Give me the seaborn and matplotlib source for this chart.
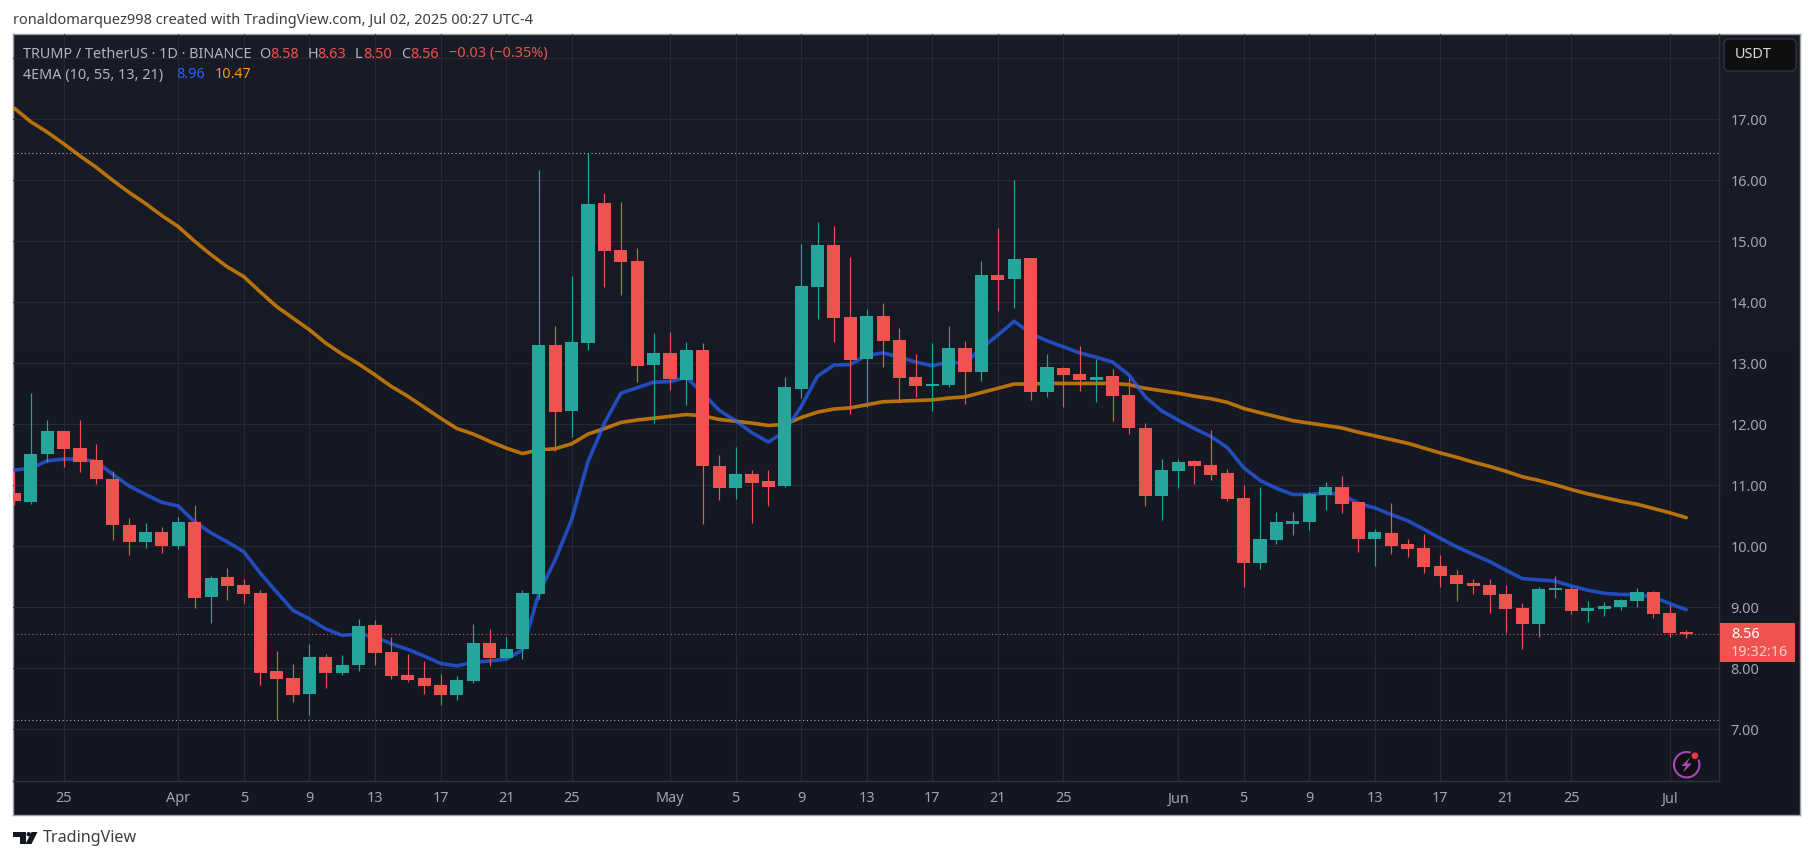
import numpy as np
import pandas as pd
import seaborn as sns
import matplotlib
matplotlib.use("Agg")
import matplotlib.pyplot as plt
import matplotlib.dates as mdates
from matplotlib.patches import Rectangle, FancyBboxPatch, Circle, Polygon

opens = [10.87,10.73,11.51,11.89,11.61,11.41,11.10,10.35,10.07,10.24,
 10.01,10.40,9.17,9.50,9.37,9.24,7.96,7.84,7.58,8.19,7.92,8.06,8.71,8.27,7.89,7.84,7.73,7.56,7.79,8.42,8.17,8.32,9.22,13.30,12.22,13.33,15.63,14.86,14.68,12.97,
 13.17,12.73,13.22,11.32,10.96,11.19,11.07,10.99,12.58,14.25,14.94,13.76,13.07,13.78,13.38,12.77,12.63,12.645,13.25,12.86,14.45,14.38,14.73,12.53,12.925,12.825,12.725,12.79,12.48,11.94,10.82,
 11.235,11.40,11.33,11.20,10.79,9.73,10.10,10.37,10.40,10.84,10.97,10.73,10.12,10.22,10.04,9.97,9.68,9.53,9.40,9.365,9.22,8.99,8.73,9.285,9.30,8.94,8.97,9.005,9.10,9.25,
 8.905,8.58]
closes = [10.74,11.51,11.89,11.595,11.38,11.10,10.35,10.07,10.24,10.01,
 10.40,9.15,9.48,9.35,9.22,7.92,7.825,7.56,8.185,7.92,8.055,8.69,8.25,7.875,7.81,7.71,7.56,7.81,8.415,8.17,8.315,9.235,13.30,12.20,13.35,15.61,14.84,14.66,12.96,13.17,
 12.74,13.22,11.32,10.96,11.19,11.04,10.97,12.61,14.27,14.94,13.74,13.05,13.78,13.37,12.76,12.63,12.66,13.25,12.86,14.45,14.365,14.71,12.53,12.94,12.81,12.725,12.775,12.46,11.94,10.82,11.25,
 11.38,11.32,11.17,10.775,9.73,10.12,10.40,10.415,10.86,10.97,10.69,10.12,10.235,10.005,9.96,9.66,9.51,9.38,9.35,9.20,8.97,8.73,9.30,9.30,8.94,8.99,9.02,9.12,9.25,8.89,
 8.58,8.56]
highs = [11.24,12.52,12.07,11.89,12.07,11.68,11.24,10.47,10.38,10.32,
 10.48,10.68,9.51,9.645,9.465,9.28,8.28,8.07,8.40,8.235,8.22,8.81,8.79,8.515,8.235,8.12,7.905,7.87,8.73,8.645,8.515,9.285,16.17,13.61,14.43,16.44,15.79,15.645,14.89,13.50,
 13.51,13.35,13.33,11.50,11.63,11.25,11.25,12.78,14.96,15.32,15.25,14.74,13.89,13.99,13.58,13.15,13.33,13.61,13.37,14.68,15.22,16.0,14.73,13.15,12.94,13.28,13.07,12.91,12.76,12.02,11.43,
 11.43,11.415,11.91,11.27,11.0,10.97,10.56,10.56,10.89,11.05,11.15,10.74,10.28,10.71,10.12,10.2,9.86,9.61,9.46,9.46,9.37,9.07,9.33,9.51,9.33,9.10,9.09,9.14,9.32,9.27,
 9.04,8.63]
lows = [10.68,10.69,11.38,11.30,11.22,11.02,10.10,9.86,9.97,9.89,
 9.96,8.99,8.74,9.12,9.07,7.73,7.15,7.45,7.23,7.68,7.89,7.96,8.055,7.825,7.775,7.58,7.40,7.48,7.76,8.04,8.17,8.15,9.14,11.56,11.79,13.22,14.25,14.12,12.69,12.02,
 12.56,12.32,10.37,10.76,10.78,10.38,10.66,10.97,12.43,13.73,13.35,12.17,12.28,12.94,12.35,12.45,12.22,12.61,12.33,12.71,13.86,13.91,12.40,12.45,12.28,12.545,12.37,12.05,11.84,10.66,10.43,
 10.96,11.02,11.09,10.74,9.33,9.63,10.04,10.19,10.27,10.595,10.55,9.91,9.68,9.87,9.82,9.56,9.33,9.10,9.22,8.91,8.58,8.32,8.51,9.15,8.89,8.76,8.86,8.96,9.0,8.82,
 8.51,8.50]
ema_blue = [11.25,11.28,11.40,11.43,11.43,11.39,11.18,10.99,10.85,10.72,
 10.66,10.40,10.22,10.07,9.91,9.56,9.25,8.95,8.81,8.645,8.54,8.56,8.52,8.40,8.31,8.20,8.08,8.04,8.10,8.12,8.15,8.30,9.23,9.78,10.44,
 11.39,12.02,12.51,12.60,12.69,12.70,12.77,12.51,12.23,12.06,11.86,11.71,11.88,12.29,12.79,12.97,12.98,13.13,13.17,13.10,13.02,12.96,13.02,13.0,13.25,13.46,13.69,13.49,13.37,13.27,13.17,13.10,
 13.02,12.81,12.45,12.22,12.07,11.93,11.80,11.62,11.29,11.08,10.95,10.85,10.85,10.87,10.85,10.70,10.63,10.52,10.42,10.28,10.13,9.99,9.87,9.75,9.61,9.47,9.45,9.43,9.35,9.28,9.23,9.21,9.21,9.17,9.06,8.96]
ema_orange = [17.18,16.96,16.79,16.60,16.40,16.21,16.0,15.80,15.62,15.42,
 15.24,15.0,14.78,14.58,14.42,14.17,13.93,13.74,13.55,13.33,13.15,12.99,12.81,12.62,12.46,12.28,12.10,11.93,11.84,11.72,11.61,
 11.52,11.58,11.60,11.68,11.84,11.93,12.03,12.07,12.10,12.13,12.16,12.14,12.08,12.05,12.02,11.98,12.0,12.11,12.2,12.25,12.27,12.32,12.37,12.38,12.39,12.40,12.43,12.45,12.52,12.59,12.66,12.66,12.67,12.67,12.67,12.67,
 12.67,12.65,12.59,12.55,12.51,12.46,12.42,12.36,12.26,12.19,12.125,12.06,12.02,11.98,11.94,11.87,11.81,11.75,11.69,11.61,11.53,11.46,11.38,11.31,11.23,11.14,11.08,11.01,10.93,10.86,10.80,10.74,10.69,10.62,10.55,10.47]

tick_dates = ["2025-03-25","2025-04-01","2025-04-05","2025-04-09","2025-04-13","2025-04-17","2025-04-21","2025-04-25",
              "2025-05-01","2025-05-05","2025-05-09","2025-05-13","2025-05-17","2025-05-21","2025-05-25",
              "2025-06-01","2025-06-05","2025-06-09","2025-06-13","2025-06-17","2025-06-21","2025-06-25","2025-07-01"]
tick_labels = ["25","Apr","5","9","13","17","21","25","May","5","9","13","17","21","25","Jun","5","9","13","17","21","25","Jul"]
month_labels = {"Apr","May","Jun","Jul"}
price_ticks = [7,8,9,10,11,12,13,14,15,16,17,18]
price_labels = ["7.00","8.00","9.00","10.00","11.00","12.00","13.00","14.00","15.00","16.00","17.00",""]
high_mark, low_mark, last_price = 16.44, 7.15, 8.56

UP, DOWN = "#26a69a", "#ef5350"
GRID = "#262a35"
TEXT = "#a3a6af"
FONT = "Noto Sans"

sns.set_theme(style="dark")
plt.rcParams["font.family"] = [FONT, "DejaVu Sans"]

W, H = 1814, 860
fig = plt.figure(figsize=(W/100, H/100), dpi=100, facecolor="white")

def axes_px(l, t, r, b, **kw):
    return fig.add_axes([l/W, 1-b/H, (r-l)/W, (b-t)/H], **kw)

# panel background with TradingView's faint vertical gradient
bg = axes_px(13, 34, 1800, 815, zorder=0)
top_c, bot_c = np.array([24, 28, 39]), np.array([19, 23, 34])
grad = np.linspace(0, 1, 64)[:, None, None]
bg.imshow((top_c + (bot_c-top_c)*grad).astype(np.uint8), aspect="auto", interpolation="bilinear")
bg.set_xticks([]); bg.set_yticks([])
for s in bg.spines.values():
    s.set_color("#9a9da6"); s.set_linewidth(1.0)

# price pane
ax = axes_px(13, 34, 1719, 781, zorder=1)
ax.patch.set_alpha(0)
dates = pd.date_range("2025-03-22", periods=len(opens), freq="D")
df = pd.DataFrame({"date": dates, "open": opens, "high": highs, "low": lows, "close": closes,
                   "ema10": ema_blue, "ema55": ema_orange})
sns.lineplot(data=df, x="date", y="ema55", color="#ff9800", alpha=0.7, linewidth=2.6, ax=ax, zorder=2.2)
sns.lineplot(data=df, x="date", y="ema10", color="#2962ff", alpha=0.7, linewidth=2.6, ax=ax, zorder=2.3)

colors = np.where(df["close"] >= df["open"], UP, DOWN)
ax.vlines(df["date"], df["low"], df["high"], colors=colors, linewidth=0.85, zorder=3)
ax.bar(df["date"], (df["close"]-df["open"]).abs().clip(lower=0.03),
       bottom=df[["open","close"]].min(axis=1), width=0.8, color=colors, linewidth=0, zorder=3.1)

apr1 = mdates.date2num(pd.Timestamp("2025-04-01"))
px_per_day = 16.39
ax.set_xlim(apr1 + (13-178.3)/px_per_day, apr1 + (1719-178.3)/px_per_day)
ax.set_ylim(13-(781-363.3)/61, 13+(363.3-34)/61)

ax.set_xticks(pd.to_datetime(tick_dates))
ax.set_xticklabels(tick_labels)
for lab in ax.get_xticklabels():
    lab.set_fontweight("bold" if lab.get_text() in month_labels else "normal")
ax.yaxis.tick_right()
ax.set_yticks(price_ticks)
ax.set_yticklabels(price_labels)
ax.tick_params(axis="x", length=0, pad=7.5, labelsize=10.4, colors=TEXT)
ax.tick_params(axis="y", length=0, pad=8.2, labelsize=10.4, colors=TEXT)
ax.set_xlabel(""); ax.set_ylabel("")
ax.grid(True, color=GRID, linewidth=0.8, zorder=1)
for side in ("top", "left"):
    ax.spines[side].set_visible(False)
for side in ("bottom", "right"):
    ax.spines[side].set_color("#2e323d"); ax.spines[side].set_linewidth(1.0)
ax.axhline(high_mark, color="#b2b5be", linewidth=0.8, linestyle=(0, (1, 2.4)), zorder=2)
ax.axhline(low_mark, color="#b2b5be", linewidth=0.8, linestyle=(0, (1, 2.4)), zorder=2)
ax.axhline(last_price, color=DOWN, linewidth=0.8, linestyle=(0, (1, 2.4)), zorder=2)

# overlay in pixel coordinates for chrome
ov = fig.add_axes([0, 0, 1, 1], zorder=5)
ov.set_xlim(0, W); ov.set_ylim(H, 0); ov.axis("off"); ov.patch.set_alpha(0)

def t(x, y, s, color=TEXT, size=10.4, **kw):
    ov.text(x, y, s, color=color, fontsize=size, va="center", ha=kw.pop("ha", "left"), **kw)

t(13, 20, "ronaldomarquez998 created with TradingView.com, Jul 02, 2025 00:27 UTC-4", color="#3a3d46", size=10.45)

L1, L2 = 54, 75
LEG = "#b2b5be"; RED = "#ef5350"
t(23, L1, "TRUMP / TetherUS · 1D · BINANCE", color=LEG)
for x, s, c in [(259, "O", LEG), (270, "8.58", RED), (307.6, "H", LEG), (317.5, "8.63", RED),
                (355, "L", LEG), (363, "8.50", RED), (401, "C", LEG), (410, "8.56", RED),
                (449, "−0.03 (−0.35%)", RED)]:
    t(x, L1, s, color=c)
t(23, L2, "4EMA (10, 55, 13, 21)", color=LEG)
t(176, L2, "8.96", color="#2962ff")
t(214.7, L2, "10.47", color="#ff9800")

# currency button
ov.add_patch(FancyBboxPatch((1726, 41), 68, 28, boxstyle="round,pad=2,rounding_size=5",
                            fc="#0f0f0f", ec="#33363f", lw=0.9))
t(1735, 54.5, "USDT", color="#dbdbdb")

# last price label
ov.add_patch(Rectangle((1720, 623), 75, 39, fc=DOWN, ec="none"))
t(1731, 634, "8.56", color="#ffffff", fontweight="medium")
t(1731, 652, "19:32:16", color="#fbd0cf")

# alert icon
ov.add_patch(Circle((1686.7, 764.7), 12.7, fc="#0f0f0f", ec="#ab47bc", lw=1.5))
ov.add_patch(Polygon([(1690, 757.5), (1681.5, 766), (1686, 766), (1683, 772.5), (1692, 763.5), (1687, 763.5)],
                     closed=True, fc="#ab47bc", ec="none"))
ov.add_patch(Circle((1695, 755.7), 5.2, fc="#131722", ec="none"))
ov.add_patch(Circle((1695, 755.7), 3.3, fc="#f23645", ec="none"))

# wordmark
LOGO = "#131722"
ov.add_patch(Polygon([(13, 832), (25.5, 832), (25.5, 844), (19.5, 844), (19.5, 836.5), (13, 836.5)],
                     closed=True, fc=LOGO, ec="none"))
ov.add_patch(Circle((28.7, 834.2), 2.2, fc=LOGO, ec="none"))
ov.add_patch(Polygon([(31.5, 832), (37.5, 832), (31.5, 844), (25.5, 844)], closed=True, fc=LOGO, ec="none"))
t(43, 838, "TradingView", color="#3a3d46", size=11.6)

fig.savefig("out.png", dpi=100, facecolor="white")
